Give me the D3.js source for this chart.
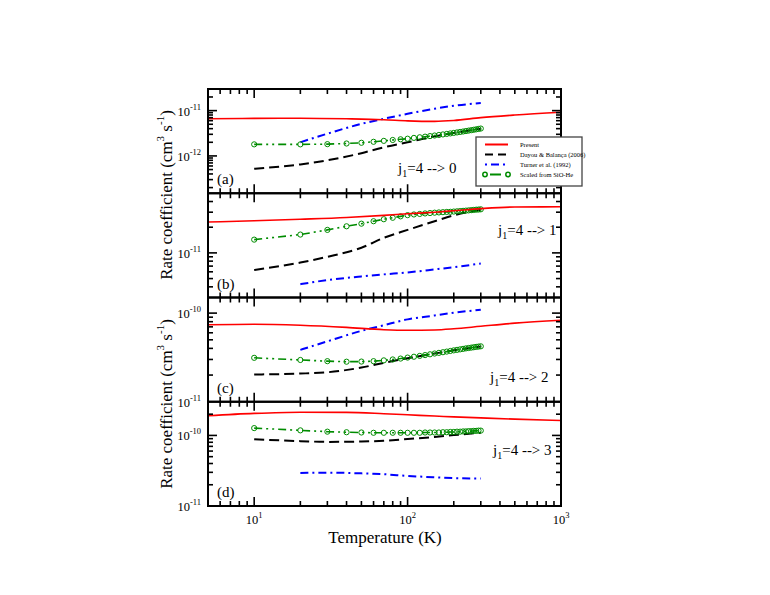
<!DOCTYPE html>
<html><head><meta charset="utf-8">
<script src="https://cdn.jsdelivr.net/npm/d3@7"></script>
<style>body{margin:0;background:#fff}svg{display:block}text{font-family:"Liberation Serif","Times New Roman",serif}</style>
</head><body><svg id="c" width="770" height="595"></svg>
<script>
// ---- data ----
const panelLabels = ["(a)", "(b)", "(c)", "(d)"];
const transitions = ["0", "1", "2", "3"];
const legendNames = ["Present", "Dayou & Balança (2006)", "Turner et al. (1992)", "Scaled from SiO-He"];
const xTickLabels = ["1", "2", "3"];

const tempPresent = [5, 10, 20, 40, 70, 100, 150, 200, 300, 500, 1000];
const tempDayou   = [10, 20, 30, 50, 70, 100, 150, 200, 300];
const tempTurner  = [20, 30, 50, 70, 100, 150, 200, 300];
const tempScaled  = [10, 20, 30, 40, 50, 60, 70, 80, 90, 100, 110, 120, 130, 140, 150,
                     160, 170, 180, 190, 200, 210, 220, 230, 240, 250, 260, 270, 280, 290, 300];

// panel (a) j1=4 -> 0
const presentA = [6.6e-12, 6.75e-12, 6.8e-12, 6.6e-12, 6.3e-12, 5.95e-12, 5.8e-12, 6.05e-12, 7.0e-12, 8.0e-12, 9.2e-12];
const dayouA   = [5.2e-13, 6.5e-13, 8.0e-13, 1.15e-12, 1.55e-12, 2.0e-12, 2.7e-12, 3.2e-12, 4.0e-12];
const turnerA  = [2.0e-12, 3.1e-12, 5.1e-12, 6.6e-12, 8.5e-12, 1.1e-11, 1.28e-11, 1.47e-11];
const scaledA  = [1.8e-12, 1.8e-12, 1.82e-12, 1.88e-12, 1.95e-12, 2.05e-12, 2.15e-12, 2.25e-12, 2.33e-12, 2.4e-12,
                  2.5e-12, 2.58e-12, 2.66e-12, 2.74e-12, 2.82e-12, 2.9e-12, 2.98e-12, 3.06e-12, 3.14e-12, 3.22e-12,
                  3.3e-12, 3.38e-12, 3.46e-12, 3.54e-12, 3.62e-12, 3.7e-12, 3.78e-12, 3.86e-12, 3.94e-12, 4.02e-12];
// panel (b) j1=4 -> 1
const presentB = [2.3e-11, 2.38e-11, 2.48e-11, 2.6e-11, 2.75e-11, 2.87e-11, 3.0e-11, 3.12e-11, 3.3e-11, 3.45e-11, 3.47e-11];
const dayouB   = [6.3e-12, 7.7e-12, 9.0e-12, 1.15e-11, 1.5e-11, 1.86e-11, 2.35e-11, 2.75e-11, 3.2e-11];
const turnerB  = [4.3e-12, 4.8e-12, 5.3e-12, 5.6e-12, 5.9e-12, 6.4e-12, 6.8e-12, 7.5e-12];
const scaledB  = [1.43e-11, 1.64e-11, 1.86e-11, 2.05e-11, 2.2e-11, 2.35e-11, 2.48e-11, 2.58e-11, 2.68e-11, 2.77e-11,
                  2.82e-11, 2.86e-11, 2.9e-11, 2.93e-11, 2.96e-11, 2.98e-11, 3.0e-11, 3.02e-11, 3.03e-11, 3.05e-11,
                  3.07e-11, 3.09e-11, 3.11e-11, 3.13e-11, 3.15e-11, 3.17e-11, 3.19e-11, 3.21e-11, 3.22e-11, 3.24e-11];
// panel (c) j1=4 -> 2
const presentC = [7.4e-11, 7.5e-11, 7.3e-11, 6.9e-11, 6.5e-11, 6.4e-11, 6.45e-11, 6.65e-11, 7.1e-11, 7.7e-11, 8.3e-11];
const dayouC   = [2.03e-11, 2.08e-11, 2.15e-11, 2.43e-11, 2.75e-11, 3.1e-11, 3.5e-11, 3.8e-11, 4.2e-11];
const turnerC  = [3.85e-11, 4.8e-11, 6.3e-11, 7.3e-11, 8.5e-11, 9.4e-11, 1.01e-10, 1.09e-10];
const scaledC  = [3.13e-11, 2.96e-11, 2.87e-11, 2.83e-11, 2.84e-11, 2.87e-11, 2.93e-11, 3.0e-11, 3.07e-11, 3.15e-11,
                  3.22e-11, 3.29e-11, 3.36e-11, 3.43e-11, 3.5e-11, 3.56e-11, 3.62e-11, 3.68e-11, 3.74e-11, 3.8e-11,
                  3.85e-11, 3.9e-11, 3.95e-11, 4.0e-11, 4.04e-11, 4.08e-11, 4.12e-11, 4.16e-11, 4.19e-11, 4.22e-11];
// panel (d) j1=4 -> 3
const presentD = [1.9e-10, 2.05e-10, 2.13e-10, 2.12e-10, 2.03e-10, 1.96e-10, 1.88e-10, 1.83e-10, 1.77e-10, 1.7e-10, 1.63e-10];
const dayouD   = [8.8e-11, 8.3e-11, 8.1e-11, 8.2e-11, 8.4e-11, 8.9e-11, 9.5e-11, 1.01e-10, 1.09e-10];
const turnerD  = [2.94e-11, 2.97e-11, 2.9e-11, 2.82e-11, 2.67e-11, 2.55e-11, 2.48e-11, 2.45e-11];
const scaledD  = [1.27e-10, 1.18e-10, 1.13e-10, 1.11e-10, 1.1e-10, 1.09e-10, 1.09e-10, 1.09e-10, 1.09e-10, 1.09e-10,
                  1.09e-10, 1.09e-10, 1.1e-10, 1.1e-10, 1.1e-10, 1.1e-10, 1.11e-10, 1.11e-10, 1.12e-10, 1.12e-10,
                  1.13e-10, 1.13e-10, 1.14e-10, 1.14e-10, 1.15e-10, 1.15e-10, 1.16e-10, 1.16e-10, 1.17e-10, 1.17e-10];

const yDomains = [[1.5e-13, 3e-11], [3e-12, 5e-11], [1e-11, 1.5e-10], [1e-11, 3e-10]];
const xDomain = [5, 1000];

// ---- drawing ----
const svg = d3.select("#c");
const L = 208, R = 561, TOP = 89, PH = 104.25;
const x = d3.scaleLog().domain(xDomain).range([L, R]);

const panels = [
  {present: presentA, dayou: dayouA, turner: turnerA, scaled: scaledA, labelX: 398, labelDy: 84},
  {present: presentB, dayou: dayouB, turner: turnerB, scaled: scaledB, labelX: 498, labelDy: 42},
  {present: presentC, dayou: dayouC, turner: turnerC, scaled: scaledC, labelX: 490, labelDy: 84},
  {present: presentD, dayou: dayouD, turner: turnerD, scaled: scaledD, labelX: 493, labelDy: 53}
];

const styles = {
  present: {color: "#ff0000", dash: null, w: 1.6},
  dayou:   {color: "#000000", dash: "10,5", w: 2},
  turner:  {color: "#0000ff", dash: "8,4,2,4", w: 2},
  scaled:  {color: "#008c00", dash: "8,4,2,4,2,4", w: 1.6}
};

function logTicks(dom) {
  const out = [];
  const lo = Math.floor(Math.log10(dom[0])), hi = Math.ceil(Math.log10(dom[1]));
  for (let e = lo; e <= hi; e++) for (let m = 1; m <= 9; m++) {
    const v = m * Math.pow(10, e);
    if (v >= dom[0] * 0.9999 && v <= dom[1] * 1.0001) out.push({v, major: m === 1, e});
  }
  return out;
}

panels.forEach((p, i) => {
  const top = TOP + i * PH, bot = top + PH;
  const y = d3.scaleLog().domain(yDomains[i]).range([bot, top]);
  const g = svg.append("g");
  const clip = "clip" + i;
  svg.append("clipPath").attr("id", clip).append("rect")
    .attr("x", L).attr("y", top).attr("width", R - L).attr("height", PH);
  const plot = g.append("g").attr("clip-path", `url(#${clip})`);

  const mk = (temps, vals, curve) => d3.line().x((d, k) => x(temps[k])).y(d => y(d)).curve(curve)(vals);

  plot.append("path").attr("d", mk(tempDayou, p.dayou, d3.curveMonotoneX))
    .attr("fill", "none").attr("stroke", styles.dayou.color).attr("stroke-width", styles.dayou.w)
    .attr("stroke-dasharray", styles.dayou.dash);
  plot.append("path").attr("d", mk(tempTurner, p.turner, d3.curveMonotoneX))
    .attr("fill", "none").attr("stroke", styles.turner.color).attr("stroke-width", styles.turner.w)
    .attr("stroke-dasharray", styles.turner.dash);
  plot.append("path").attr("d", mk(tempScaled, p.scaled, d3.curveLinear))
    .attr("fill", "none").attr("stroke", styles.scaled.color).attr("stroke-width", styles.scaled.w)
    .attr("stroke-dasharray", styles.scaled.dash);
  plot.selectAll("circle.s").data(p.scaled).enter().append("circle")
    .attr("cx", (d, k) => x(tempScaled[k])).attr("cy", d => y(d)).attr("r", 2.6)
    .attr("fill", "none").attr("stroke", styles.scaled.color).attr("stroke-width", 1);
  plot.append("path").attr("d", mk(tempPresent, p.present, d3.curveMonotoneX))
    .attr("fill", "none").attr("stroke", styles.present.color).attr("stroke-width", styles.present.w);

  // frame
  g.append("rect").attr("x", L).attr("y", top).attr("width", R - L).attr("height", PH)
    .attr("fill", "none").attr("stroke", "#000").attr("stroke-width", 2);

  // x ticks (inward, top and bottom)
  logTicks(xDomain).forEach(t => {
    const xx = x(t.v); if (xx <= L + 0.5 || xx >= R - 0.5) return;
    const len = t.major ? 9 : 5;
    g.append("line").attr("x1", xx).attr("x2", xx).attr("y1", bot).attr("y2", bot - len).attr("stroke", "#000").attr("stroke-width", 1.6);
    g.append("line").attr("x1", xx).attr("x2", xx).attr("y1", top).attr("y2", top + len).attr("stroke", "#000").attr("stroke-width", 1.6);
  });
  // y ticks (inward, left and right)
  logTicks(yDomains[i]).forEach(t => {
    const yy = y(t.v);
    const len = t.major ? 9 : 5;
    if (yy > top + 0.5 && yy < bot - 0.5) {
      g.append("line").attr("x1", L).attr("x2", L + len).attr("y1", yy).attr("y2", yy).attr("stroke", "#000").attr("stroke-width", 1.6);
      g.append("line").attr("x1", R).attr("x2", R - len).attr("y1", yy).attr("y2", yy).attr("stroke", "#000").attr("stroke-width", 1.6);
    }
    if (t.major) {
      const tx = g.append("text").attr("x", L - 7).attr("y", yy + 5).attr("text-anchor", "end")
        .attr("font-size", 12.5).attr("fill", "#000");
      tx.append("tspan").text("10");
      tx.append("tspan").attr("dy", -6).attr("font-size", 8.5).text(String(t.e));
    }
  });

  // panel label
  g.append("text").attr("x", 217).attr("y", bot - 9).attr("font-size", 15).text(panelLabels[i]);
  // transition label
  const tl = g.append("text").attr("x", p.labelX).attr("y", top + p.labelDy)
    .attr("font-size", 15).attr("fill", "#000");
  tl.append("tspan").text("j");
  tl.append("tspan").attr("dy", 4).attr("font-size", 10).text("1");
  tl.append("tspan").attr("dy", -4).text("=4 --> " + transitions[i]);
});

// x tick labels (bottom panel)
[10, 100, 1000].forEach((v, k) => {
  const t = svg.append("text").attr("x", x(v)).attr("y", 524).attr("text-anchor", "middle").attr("font-size", 12.5);
  t.append("tspan").text("10");
  t.append("tspan").attr("dy", -6).attr("font-size", 8.5).text(xTickLabels[k]);
});
svg.append("text").attr("x", 385).attr("y", 543).attr("text-anchor", "middle").attr("font-size", 17).text("Temperature (K)");

// y titles
[195, 404].forEach(cy => {
  const t = svg.append("text").attr("transform", `translate(172,${cy}) rotate(-90)`).attr("text-anchor", "middle").attr("font-size", 17);
  t.append("tspan").text("Rate coefficient (cm");
  t.append("tspan").attr("dy", -8).attr("font-size", 11).text("3");
  t.append("tspan").attr("dy", 8).text(" s");
  t.append("tspan").attr("dy", -8).attr("font-size", 11).text("-1");
  t.append("tspan").attr("dy", 8).text(")");
});

// legend
const lg = svg.append("g");
lg.append("rect").attr("x", 476).attr("y", 137).attr("width", 106).attr("height", 49)
  .attr("fill", "#fff").attr("stroke", "#444").attr("stroke-width", 1.3);
const keys = ["present", "dayou", "turner", "scaled"];
keys.forEach((k, j) => {
  const yy = 144.5 + j * 10;
  const s = styles[k];
  lg.append("line").attr("x1", 485).attr("x2", 508).attr("y1", yy).attr("y2", yy)
    .attr("stroke", s.color).attr("stroke-width", 2).attr("stroke-dasharray", k === "dayou" ? "8,5" : (k === "turner" ? "2,4,8,4" : (k === "scaled" ? "0,5,11,10" : null)));
  if (k === "scaled") {
    [485, 508].forEach(cx => lg.append("circle").attr("cx", cx).attr("cy", yy).attr("r", 2.2)
      .attr("fill", "none").attr("stroke", s.color).attr("stroke-width", 1.5));
  }
  lg.append("text").attr("x", 520).attr("y", yy + 2.2).attr("font-size", 6.5).text(legendNames[j]);
});
</script></body></html>
